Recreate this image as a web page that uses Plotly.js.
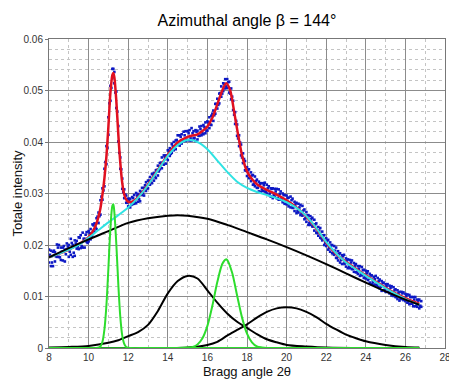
<!DOCTYPE html>
<html>
<head>
<meta charset="utf-8">
<script src="https://cdn.plot.ly/plotly-3.0.1.min.js"></script>
<style>html,body{margin:0;padding:0;background:#fff;}#chart{width:449px;height:379px;}</style>
</head>
<body>
<div id="chart"></div>
<script>
// Measured data points (blue dots)
const dotX = [8.0,8.1,8.2,8.3,8.4,8.5,8.6,8.7,8.8,8.9,
9.0,9.1,9.2,9.3,9.4,9.5,9.6,9.7,9.8,9.9,
10.0,10.1,10.2,10.3,10.4,10.5,10.6,10.7,10.8,10.9,
11.0,11.1,11.2,11.3,11.4,11.5,11.6,11.7,11.8,11.9,
12.0,12.1,12.2,12.3,12.4,12.5,12.6,12.7,12.8,12.9,
13.0,13.1,13.2,13.3,13.4,13.5,13.6,13.7,13.8,13.9,
14.0,14.1,14.2,14.3,14.4,14.5,14.6,14.7,14.8,14.9,
15.0,15.1,15.2,15.3,15.4,15.5,15.6,15.7,15.8,15.9,
16.0,16.1,16.2,16.3,16.4,16.5,16.6,16.7,16.8,16.9,
17.0,17.1,17.2,17.3,17.4,17.5,17.6,17.7,17.8,17.9,
18.0,18.1,18.2,18.3,18.4,18.5,18.6,18.7,18.8,18.9,
19.0,19.1,19.2,19.3,19.4,19.5,19.6,19.7,19.8,19.9,
20.0,20.1,20.2,20.3,20.4,20.5,20.6,20.7,20.8,20.9,
21.0,21.1,21.2,21.3,21.4,21.5,21.6,21.7,21.8,21.9,
22.0,22.1,22.2,22.3,22.4,22.5,22.6,22.7,22.8,22.9,
23.0,23.1,23.2,23.3,23.4,23.5,23.6,23.7,23.8,23.9,
24.0,24.1,24.2,24.3,24.4,24.5,24.6,24.7,24.8,24.9,
25.0,25.1,25.2,25.3,25.4,25.5,25.6,25.7,25.8,25.9,
26.0,26.1,26.2,26.3,26.4,26.5,26.6,26.7,26.8];
const dotYa = [0.0191,0.0159,0.0187,0.0168,0.0201,0.0177,0.0195,0.0170,0.0191,0.0203,
0.0177,0.0212,0.0200,0.0179,0.0208,0.0192,0.0219,0.0195,0.0212,0.0225,
0.0227,0.0211,0.0240,0.0226,0.0252,0.0243,0.0287,0.0288,0.0348,0.0357,
0.0448,0.0480,0.0542,0.0536,0.0466,0.0431,0.0348,0.0329,0.0291,0.0296,
0.0275,0.0290,0.0279,0.0297,0.0281,0.0299,0.0285,0.0311,0.0311,0.0305,
0.0325,0.0317,0.0338,0.0325,0.0345,0.0335,0.0359,0.0370,0.0356,0.0374,
0.0384,0.0373,0.0396,0.0384,0.0403,0.0413,0.0393,0.0415,0.0402,0.0421,
0.0421,0.0403,0.0427,0.0407,0.0423,0.0405,0.0430,0.0413,0.0433,0.0417,
0.0422,0.0448,0.0433,0.0461,0.0455,0.0484,0.0475,0.0508,0.0499,0.0522,
0.0522,0.0496,0.0504,0.0462,0.0458,0.0412,0.0413,0.0374,0.0378,0.0345,
0.0334,0.0347,0.0324,0.0336,0.0314,0.0327,0.0304,0.0320,0.0305,0.0321,
0.0317,0.0297,0.0310,0.0291,0.0309,0.0291,0.0308,0.0288,0.0300,0.0280,
0.0296,0.0275,0.0294,0.0272,0.0284,0.0262,0.0280,0.0258,0.0276,0.0250,
0.0245,0.0258,0.0239,0.0253,0.0228,0.0242,0.0218,0.0233,0.0209,0.0219,
0.0213,0.0191,0.0205,0.0184,0.0198,0.0175,0.0188,0.0166,0.0180,0.0164,
0.0158,0.0172,0.0155,0.0170,0.0148,0.0163,0.0144,0.0159,0.0141,0.0152,
0.0150,0.0132,0.0144,0.0124,0.0138,0.0123,0.0136,0.0116,0.0130,0.0112,
0.0109,0.0124,0.0106,0.0120,0.0101,0.0114,0.0095,0.0109,0.0095,0.0108,
0.0105,0.0088,0.0103,0.0086,0.0099,0.0081,0.0094,0.0077,0.0091];
const dotYb = [0.0166,0.0189,0.0159,0.0186,0.0177,0.0200,0.0171,0.0195,0.0168,0.0191,
0.0200,0.0181,0.0177,0.0209,0.0193,0.0215,0.0194,0.0224,0.0195,0.0206,
0.0207,0.0231,0.0221,0.0242,0.0231,0.0263,0.0259,0.0310,0.0314,0.0392,
0.0414,0.0509,0.0524,0.0514,0.0498,0.0401,0.0370,0.0309,0.0308,0.0282,
0.0290,0.0273,0.0293,0.0280,0.0301,0.0284,0.0305,0.0297,0.0296,0.0322,
0.0310,0.0332,0.0320,0.0340,0.0330,0.0354,0.0347,0.0349,0.0374,0.0358,
0.0365,0.0388,0.0379,0.0400,0.0386,0.0395,0.0413,0.0397,0.0420,0.0402,
0.0404,0.0423,0.0403,0.0421,0.0402,0.0422,0.0412,0.0431,0.0415,0.0438,
0.0440,0.0427,0.0451,0.0441,0.0474,0.0465,0.0494,0.0488,0.0514,0.0504,
0.0505,0.0517,0.0483,0.0480,0.0435,0.0434,0.0392,0.0395,0.0359,0.0363,
0.0351,0.0330,0.0341,0.0317,0.0333,0.0311,0.0323,0.0303,0.0320,0.0304,
0.0300,0.0314,0.0294,0.0310,0.0294,0.0309,0.0288,0.0304,0.0283,0.0297,
0.0279,0.0292,0.0273,0.0290,0.0266,0.0282,0.0263,0.0278,0.0257,0.0269,
0.0264,0.0239,0.0256,0.0236,0.0249,0.0224,0.0235,0.0214,0.0226,0.0200,
0.0198,0.0210,0.0187,0.0200,0.0181,0.0195,0.0170,0.0184,0.0163,0.0181,
0.0174,0.0155,0.0171,0.0153,0.0165,0.0147,0.0159,0.0140,0.0157,0.0136,
0.0135,0.0149,0.0127,0.0141,0.0123,0.0140,0.0119,0.0133,0.0111,0.0127,
0.0124,0.0109,0.0121,0.0102,0.0118,0.0099,0.0112,0.0092,0.0109,0.0093,
0.0091,0.0104,0.0085,0.0099,0.0081,0.0099,0.0080,0.0094,0.0080];
const dotX2 = [8.05,8.15,8.25,8.35,8.45,8.55,8.65,8.75,8.85,8.95,
9.05,9.15,9.25,9.35,9.45,9.55,9.65,9.75,9.85,9.95,
10.05,10.15,10.25,10.35,10.45,10.55,10.65,10.75,10.85,10.95,
11.05,11.15,11.25,11.35,11.45,11.55,11.65,11.75,11.85,11.95,
12.05,12.15,12.25,12.35,12.45,12.55,12.65,12.75,12.85,12.95,
13.05,13.15,13.25,13.35,13.45,13.55,13.65,13.75,13.85,13.95,
14.05,14.15,14.25,14.35,14.45,14.55,14.65,14.75,14.85,14.95,
15.05,15.15,15.25,15.35,15.45,15.55,15.65,15.75,15.85,15.95,
16.05,16.15,16.25,16.35,16.45,16.55,16.65,16.75,16.85,16.95,
17.05,17.15,17.25,17.35,17.45,17.55,17.65,17.75,17.85,17.95,
18.05,18.15,18.25,18.35,18.45,18.55,18.65,18.75,18.85,18.95,
19.05,19.15,19.25,19.35,19.45,19.55,19.65,19.75,19.85,19.95,
20.05,20.15,20.25,20.35,20.45,20.55,20.65,20.75,20.85,20.95,
21.05,21.15,21.25,21.35,21.45,21.55,21.65,21.75,21.85,21.95,
22.05,22.15,22.25,22.35,22.45,22.55,22.65,22.75,22.85,22.95,
23.05,23.15,23.25,23.35,23.45,23.55,23.65,23.75,23.85,23.95,
24.05,24.15,24.25,24.35,24.45,24.55,24.65,24.75,24.85,24.95,
25.05,25.15,25.25,25.35,25.45,25.55,25.65,25.75,25.85,25.95,
26.05,26.15,26.25,26.35,26.45,26.55,26.65,26.75];
const dotYc = [0.0181,0.0166,0.0189,0.0178,0.0195,0.0176,0.0187,0.0198,0.0182,0.0197,
0.0187,0.0204,0.0185,0.0203,0.0197,0.0214,0.0198,0.0212,0.0220,0.0204,
0.0223,0.0217,0.0238,0.0234,0.0255,0.0256,0.0294,0.0306,0.0361,0.0389,
0.0475,0.0505,0.0542,0.0496,0.0459,0.0379,0.0347,0.0303,0.0298,0.0282,
0.0287,0.0278,0.0291,0.0284,0.0296,0.0289,0.0303,0.0301,0.0316,0.0310,
0.0325,0.0322,0.0337,0.0332,0.0346,0.0343,0.0360,0.0358,0.0371,0.0368,
0.0383,0.0377,0.0392,0.0390,0.0404,0.0396,0.0410,0.0402,0.0413,0.0404,
0.0417,0.0407,0.0417,0.0408,0.0420,0.0412,0.0425,0.0417,0.0429,0.0422,
0.0438,0.0434,0.0455,0.0452,0.0474,0.0472,0.0495,0.0494,0.0513,0.0508,
0.0516,0.0494,0.0488,0.0453,0.0441,0.0407,0.0399,0.0370,0.0367,0.0344,
0.0345,0.0330,0.0335,0.0319,0.0324,0.0311,0.0319,0.0308,0.0316,0.0303,
0.0310,0.0300,0.0309,0.0297,0.0304,0.0291,0.0299,0.0288,0.0297,0.0285,
0.0291,0.0280,0.0287,0.0273,0.0279,0.0266,0.0273,0.0261,0.0267,0.0252,
0.0257,0.0243,0.0250,0.0236,0.0240,0.0223,0.0228,0.0213,0.0219,0.0204,
0.0208,0.0194,0.0199,0.0184,0.0189,0.0175,0.0183,0.0171,0.0178,0.0164,
0.0170,0.0158,0.0166,0.0154,0.0160,0.0147,0.0154,0.0143,0.0151,0.0139,
0.0145,0.0134,0.0141,0.0128,0.0134,0.0122,0.0130,0.0119,0.0126,0.0113,
0.0120,0.0109,0.0117,0.0105,0.0112,0.0099,0.0107,0.0096,0.0106,0.0094,
0.0101,0.0090,0.0099,0.0086,0.0094,0.0082,0.0092,0.0082];

// Total fit (red)
const fitX = [8,9,10,10.2,10.4,10.5,10.6,10.7,10.8,10.9,11.0,11.1,11.2,11.25,11.3,11.4,11.5,11.6,11.7,11.8,11.9,12.0,12.2,12.5,13,13.5,14,14.5,15,15.5,15.8,16.0,16.25,16.5,16.75,16.95,17.15,17.35,17.5,17.75,18.0,18.25,18.5,19,19.5,20,20.5,21,21.5,22,22.5,23,23.5,24,24.5,25,25.5,26,26.7];
const fitY = [0.0176,0.0191,0.0215,0.0226,0.0242,0.0255,0.0272,0.0298,0.0330,0.0372,0.0430,0.0495,0.0530,0.0534,0.0526,0.0480,0.0415,0.0360,0.0320,0.0298,0.0288,0.0284,0.0284,0.0293,0.0317,0.0346,0.0375,0.0399,0.0410,0.0415,0.0423,0.0430,0.0447,0.0473,0.0500,0.0514,0.0500,0.0459,0.0425,0.0374,0.0343,0.0328,0.0318,0.0307,0.0298,0.0287,0.0273,0.0255,0.0232,0.0205,0.0183,0.0167,0.0154,0.0141,0.0129,0.0117,0.0106,0.0097,0.0086];

// Amorphous sum (cyan)
const amoX = [8,8.5,9,9.5,10,10.5,11,11.5,12,12.5,13,13.5,14,14.5,15,15.5,16,16.5,17,17.5,18,18.5,19,19.5,20,20.5,21,21.5,22,22.5,23,23.5,24,24.5,25,25.5,26,26.7];
const amoY = [0.0176,0.0183,0.0191,0.0200,0.0214,0.0229,0.0244,0.0258,0.0273,0.0292,0.0316,0.0345,0.0373,0.0394,0.0404,0.0400,0.0386,0.0364,0.0342,0.0323,0.0311,0.0303,0.0297,0.0291,0.0283,0.0272,0.0256,0.0233,0.0206,0.0184,0.0166,0.0153,0.0140,0.0128,0.0116,0.0105,0.0095,0.0084];

// Black components
const b1X = [8,9,10,11,12,13,14,14.5,15,16,17,18,19,20,21,22,23,24,25,26,26.7];
const b1Y = [0.0176,0.0194,0.0211,0.0227,0.0243,0.0252,0.0257,0.0258,0.0257,0.0251,0.0239,0.0225,0.0211,0.0196,0.0180,0.0163,0.0145,0.0127,0.0110,0.0094,0.0084];
const b2X = [8,9,10,11,11.5,12,12.5,13,13.5,14,14.5,15,15.5,16,16.5,17,17.5,18,18.5,19,19.5,20,21,22,24,26.7];
const b2Y = [0.0001,0.0002,0.0004,0.0010,0.0015,0.0023,0.0031,0.0045,0.0072,0.0106,0.0130,0.0140,0.0135,0.0112,0.0088,0.0067,0.0051,0.0039,0.0027,0.0017,0.0011,0.0006,0.0003,0.0001,0.0000,0.0000];
const b3X = [8,12,14,15,16,16.5,17,17.5,18,18.5,19,19.5,20,20.5,21,21.5,22,22.5,23,23.5,24,25,26,26.7];
const b3Y = [0.0000,0.0000,0.0000,0.0001,0.0006,0.0012,0.0024,0.0035,0.0046,0.0059,0.0070,0.0077,0.0079,0.0077,0.0070,0.0060,0.0047,0.0036,0.0026,0.0019,0.0013,0.0006,0.0002,0.0001];

// Green crystalline peaks
const g1X = [8,10,10.4,10.6,10.7,10.8,10.9,11.0,11.1,11.2,11.25,11.3,11.4,11.5,11.6,11.7,11.8,11.9,12.1,13,26.7];
const g1Y = [0,0,0,0.0003,0.0012,0.0036,0.0083,0.0155,0.0231,0.0276,0.0279,0.0264,0.0202,0.0124,0.0061,0.0024,0.0008,0.0002,0,0,0];
const g2X = [8,14.5,15.0,15.25,15.5,15.75,16.0,16.25,16.5,16.75,16.93,17.0,17.25,17.5,17.75,18.0,18.25,18.5,18.75,19.0,26.7];
const g2Y = [0,0,0.0001,0.0002,0.0007,0.0019,0.0043,0.0082,0.0128,0.0163,0.0172,0.0171,0.0146,0.0102,0.0059,0.0028,0.0011,0.0003,0.0001,0,0];

const FONT = 'Liberation Sans, Arial, sans-serif';
const line = (x, y, color, w) => ({x, y, type:'scatter', mode:'lines', line:{color, width:w, shape:'spline', smoothing:0.8}, hoverinfo:'skip'});
const dots = (x, y) => ({x, y, type:'scatter', mode:'markers', marker:{color:'#0c18c4', size:2.6, symbol:'square'}, hoverinfo:'skip'});

const traces = [
  dots(dotX, dotYa), dots(dotX, dotYb), dots(dotX2, dotYc),
  line(fitX, fitY, '#e01020', 2.5),
  line(amoX, amoY, '#2fe3e3', 2),
  line(b1X, b1Y, '#000000', 2),
  line(b2X, b2Y, '#000000', 2),
  line(b3X, b3Y, '#000000', 2),
  line(g1X, g1Y, '#2ddd2d', 2),
  line(g2X, g2Y, '#2ddd2d', 2)
];

const layout = {
  width: 449, height: 379,
  margin: {l: 49, r: 4, t: 39, b: 31},
  paper_bgcolor: '#fff', plot_bgcolor: '#fff',
  showlegend: false,
  font: {family: FONT, color: '#222'},
  title: {text: 'Azimuthal angle \u03b2 = 144\u00b0', font: {family: FONT, size: 16, color: '#000'},
          x: 0.5, xref: 'paper', xanchor: 'center', y: 0.947, yref: 'container', yanchor: 'middle'},
  xaxis: {
    range: [8, 28], tick0: 8, dtick: 2, showgrid: true, gridcolor: '#8c8c8c', gridwidth: 1,
    minor: {dtick: 1, showgrid: true, gridcolor: '#c4c4c4', griddash: 'dot', gridwidth: 1},
    zeroline: false, showline: true, linecolor: '#777', linewidth: 1, mirror: true,
    ticks: '', ticklabeloverflow: 'allow', tickfont: {family: FONT, size: 10, color: '#333'},
    title: {text: 'Bragg angle 2\u03b8', font: {family: FONT, size: 13, color: '#111'}, standoff: 4}
  },
  yaxis: {
    range: [0, 0.06], tick0: 0, dtick: 0.01, showgrid: true, gridcolor: '#8c8c8c', gridwidth: 1,
    minor: {dtick: 0.002, showgrid: true, gridcolor: '#c4c4c4', griddash: 'dot', gridwidth: 1},
    zeroline: false, showline: true, linecolor: '#777', linewidth: 1, mirror: true,
    ticks: 'outside', ticklen: 3, tickcolor: '#777', tickfont: {family: FONT, size: 10, color: '#333'}
  },
  annotations: [{
    text: 'Totale intensity', textangle: -90, showarrow: false,
    xref: 'paper', x: 0, xanchor: 'center', xshift: -32,
    yref: 'paper', y: 0.5, yanchor: 'middle',
    font: {family: FONT, size: 13, color: '#111'}
  }]
};

Plotly.newPlot('chart', traces, layout, {staticPlot: true, displayModeBar: false});
</script>
</body>
</html>
